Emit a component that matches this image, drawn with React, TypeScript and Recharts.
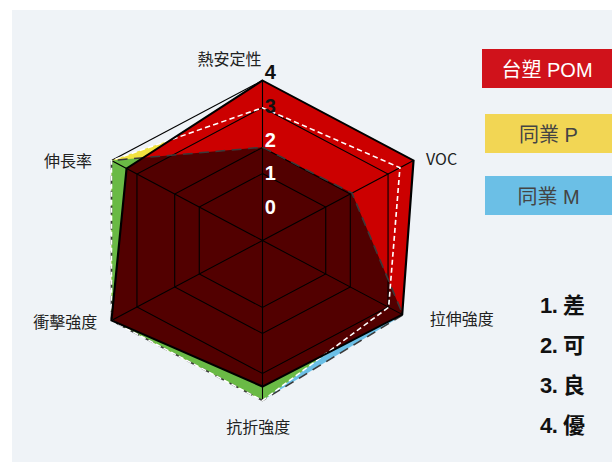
import { RadarChart, PolarGrid, PolarAngleAxis, PolarRadiusAxis, Radar } from 'recharts'

const categories = ['熱安定性', 'VOC', '拉伸強度', '抗折強度', '衝擊強度', '伸長率']
const pomValues = [4, 4, 3.7, 3.65, 4, 3.6]
const peerPValues = [3.32, 3.64, 3.34, 4, 4, 4]
const peerMValues = [2.33, 2.37, 3.72, 4, 4, 4]
const radiusTicks = [0, 1, 2, 3, 4]
const ratingLabels = ['1. 差', '2. 可', '3. 良', '4. 優']
const legendItems = [
  { name: '台塑 POM', bg: '#d0121b', color: '#fff' },
  { name: '同業 P', bg: '#f2d654', color: '#444' },
  { name: '同業 M', bg: '#6bbfe6', color: '#444' },
]

const data = categories.map((subject, i) => ({
  subject,
  pom: pomValues[i],
  p: peerPValues[i],
  m: peerMValues[i],
}))

// the source image is stretched sideways a little
const S = 1.09
const CX = 262.5
const CY = 240.5
const OUTER = 160

const RED = '#cc0000'
const MAROON = '#520000'
const YELLOW = '#f1e240'
const BLUE = '#6bbfe6'
const GREEN = '#6aba45'

const labelOffsets = [
  { dx: -1, dy: -8, anchor: 'end' },
  { dx: 4.5, dy: 8, anchor: 'start' },
  { dx: 8, dy: 0, anchor: 'start' },
  { dx: -4, dy: 24, anchor: 'middle' },
  { dx: -6, dy: 3, anchor: 'end' },
  { dx: -11, dy: 10, anchor: 'end' },
]

const pts = (points: any[]) => points.map((p) => `${p.x},${p.y}`).join(' ')

const BlueShape = (props: any) => (
  <g>
    <defs>
      <clipPath id="clip-m">
        <polygon points={pts(props.points)} />
      </clipPath>
    </defs>
    <polygon id="poly-m" points={pts(props.points)} fill={BLUE} />
  </g>
)

const YellowShape = (props: any) => (
  <g>
    <polygon id="poly-p" points={pts(props.points)} fill={YELLOW} />
    <polygon points={pts(props.points)} fill={GREEN} clipPath="url(#clip-m)" />
  </g>
)

const RedShape = (props: any) => (
  <g>
    <defs>
      {/* grid lines only show inside the filled areas */}
      <clipPath id="clip-all">
        <use href="#poly-m" />
        <use href="#poly-p" />
        <use href="#poly-pom" />
      </clipPath>
    </defs>
    <polygon id="poly-pom" points={pts(props.points)} fill={RED} />
    <polygon points={pts(props.points)} fill={MAROON} clipPath="url(#clip-m)" />
  </g>
)

const AngleTick = (props: any) => {
  const { x, y, payload, index } = props
  const o = labelOffsets[index] || { dx: 0, dy: 0, anchor: 'middle' }
  return (
    <g transform={`translate(${x + o.dx},${y + o.dy}) scale(${1 / S},1)`}>
      <text textAnchor={o.anchor} fontSize={16} fill="#222" fontFamily="'Noto Sans CJK TC', 'Liberation Sans', sans-serif">
        {payload.value}
      </text>
    </g>
  )
}

const RadiusTick = (props: any) => {
  const { x, y, payload } = props
  const v = payload.value as number
  const ty = y - 33.5 + 6.25 * v + 7.2
  return (
    <g transform={`translate(${x + 2},${ty}) scale(${1 / S},1)`}>
      <text textAnchor="start" fontSize={20} fontWeight="bold" fill={v >= 3 ? '#111' : '#fff'} fontFamily="'Liberation Sans', Arial, sans-serif">
        {v}
      </text>
    </g>
  )
}

export default function App() {
  return (
    <div style={{ position: 'absolute', left: 0, top: 0, width: 612, height: 462, background: '#fff', overflow: 'hidden' }}>
      <div style={{ position: 'absolute', left: 12, top: 10, width: 600, height: 452, background: '#eff3f7' }} />
      <div
        style={{
          position: 'absolute',
          left: 0,
          top: 0,
          width: 612,
          height: 462,
          transform: `scaleX(${S})`,
          transformOrigin: `${CX}px ${CY}px`,
        }}
      >
        <RadarChart width={612} height={462} data={data} cx={CX} cy={CY} outerRadius={OUTER} margin={{ top: 0, right: 0, bottom: 0, left: 0 }}>
          {/* only the closing edge of the outer ring shows in the source */}
          <PolarGrid polarRadius={[OUTER]} radialLines={false} stroke="#000" strokeWidth={1} strokeDasharray={`0 ${OUTER * 5} ${OUTER} 0`} />
          <PolarAngleAxis dataKey="subject" tick={AngleTick} axisLine={false} tickLine={false} />
          <PolarRadiusAxis angle={90} domain={[0, 4]} ticks={radiusTicks as any} tickCount={5} axisLine={false} tick={RadiusTick} />
          <Radar dataKey="m" shape={BlueShape} isAnimationActive={false} dot={false} />
          <Radar dataKey="p" shape={YellowShape} isAnimationActive={false} dot={false} />
          <Radar dataKey="pom" shape={RedShape} isAnimationActive={false} dot={false} />
          <PolarGrid polarRadius={[67, 93, 133]} stroke="#000" strokeWidth={1} clipPath="url(#clip-all)" {...({ zIndex: 150 } as any)} />
          <Radar dataKey="m" stroke="#3a3a3a" strokeWidth={1.5} strokeDasharray="9 6" fill="none" fillOpacity={0} isAnimationActive={false} dot={false} {...({ zIndex: 200 } as any)} />
          <Radar dataKey="p" stroke="#fff" strokeWidth={1.5} strokeDasharray="5 3" fill="none" fillOpacity={0} isAnimationActive={false} dot={false} {...({ zIndex: 201 } as any)} />
          <Radar dataKey="pom" stroke="#000" strokeWidth={2} fill="none" fillOpacity={0} isAnimationActive={false} dot={false} {...({ zIndex: 202 } as any)} />
        </RadarChart>
      </div>
      {legendItems.map((item, i) => (
        <div
          key={item.name}
          style={{
            position: 'absolute',
            left: i === 0 ? 482 : 485,
            top: [49, 114, 176][i],
            width: i === 0 ? 130 : 127,
            height: 39,
            background: item.bg,
            color: item.color,
            display: 'flex',
            alignItems: 'center',
            justifyContent: 'center',
            fontSize: 20,
            fontFamily: "'Liberation Sans', 'Noto Sans CJK TC', sans-serif",
          }}
        >
          {item.name}
        </div>
      ))}
      <div style={{ position: 'absolute', left: 540, top: 286, fontSize: 22, fontWeight: 'bold', lineHeight: '40px', color: '#111', letterSpacing: -0.5, fontFamily: "'Liberation Sans', 'Noto Sans CJK TC', sans-serif" }}>
        {ratingLabels.map((r) => (
          <div key={r}>{r}</div>
        ))}
      </div>
    </div>
  )
}
